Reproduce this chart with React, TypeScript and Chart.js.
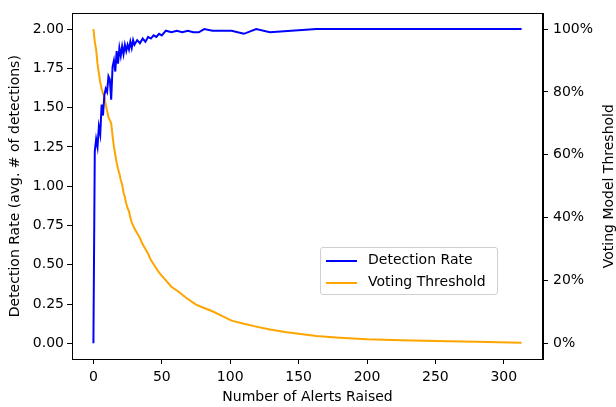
import React, { useEffect, useRef } from "react";
import { Chart, registerables } from "chart.js";

Chart.register(...registerables);

// Detection rate (avg. # of detections) vs number of alerts raised
const detX = [0, 1, 2, 3, 4, 5, 6, 7, 8, 9, 10, 11, 12, 13, 14, 15, 16, 17, 18, 19, 20, 21, 22, 23, 24, 25, 26, 27, 28, 29, 30, 32, 34, 36, 38, 40, 42, 44, 46, 48, 50, 53, 57, 61, 65, 69, 73, 77, 81, 87, 101, 110, 119, 129, 163, 313];
const detY = [0, 1.22, 1.3, 1.25, 1.38, 1.33, 1.52, 1.45, 1.58, 1.62, 1.6, 1.7, 1.68, 1.55, 1.76, 1.8, 1.73, 1.86, 1.78, 1.88, 1.83, 1.89, 1.84, 1.9, 1.86, 1.9, 1.87, 1.92, 1.88, 1.93, 1.9, 1.93, 1.91, 1.94, 1.92, 1.95, 1.94, 1.96, 1.95, 1.97, 1.96, 1.99, 1.98, 1.99, 1.98, 1.99, 1.98, 1.98, 2.0, 1.99, 1.99, 1.97, 2.0, 1.98, 2.0, 2.0];

// Voting threshold (%) vs number of alerts raised
const thrX = [0, 1, 2, 3, 4, 5, 6, 7, 8, 9, 10, 11, 12, 13, 14, 15, 16, 17, 18, 19, 20, 21, 22, 23, 24, 25, 26, 27, 28, 29, 30, 32, 34, 36, 38, 40, 42, 45, 48, 52, 57, 62, 68, 75, 80, 87, 95, 101, 110, 119, 129, 140, 150, 163, 180, 200, 225, 250, 280, 313];
const thrY = [100, 96, 93.5, 89, 86, 83, 81, 79.5, 78.5, 76, 74, 72, 71, 70, 66, 62.5, 60, 57.5, 55.5, 54, 52, 50.5, 48, 46.5, 44.5, 43, 42, 40, 38.5, 37.5, 36.5, 35, 33.5, 31.5, 30, 28.5, 26.5, 24.5, 22.5, 20.5, 18, 16.5, 14.4, 12.3, 11.4, 10.2, 8.5, 7.2, 6.2, 5.3, 4.4, 3.6, 3.0, 2.3, 1.8, 1.3, 1.0, 0.7, 0.5, 0.2];

const xTicks = [0, 50, 100, 150, 200, 250, 300];
const yTicks = [0, 0.25, 0.5, 0.75, 1.0, 1.25, 1.5, 1.75, 2.0];
const y1Ticks = [0, 20, 40, 60, 80, 100];

const FONT = "'DejaVu Sans', sans-serif";

const frame = {
  id: "frame",
  afterDraw(chart: any) {
    const { ctx, chartArea } = chart;
    ctx.save();
    ctx.strokeStyle = "#000";
    ctx.lineWidth = 1;
    ctx.strokeRect(
      Math.round(chartArea.left) + 0.5,
      Math.round(chartArea.top) + 0.5,
      Math.round(chartArea.right - chartArea.left) - 1,
      Math.round(chartArea.bottom - chartArea.top)
    );
    // right axis title, reading bottom to top
    ctx.fillStyle = "#000";
    ctx.font = `14px ${FONT}`;
    ctx.textAlign = "center";
    ctx.textBaseline = "middle";
    ctx.translate(chart.width - 7, (chartArea.top + chartArea.bottom) / 2);
    ctx.rotate(-Math.PI / 2);
    ctx.fillText("Voting Model Threshold", 0, 0);
    ctx.restore();
  },
};

export default function App() {
  const ref = useRef<HTMLCanvasElement>(null);

  useEffect(() => {
    if (!ref.current) return;
    Chart.defaults.font.family = FONT;
    Chart.defaults.font.size = 14;
    Chart.defaults.color = "#000";
    const tickGrid = {
      drawOnChartArea: false,
      drawTicks: true,
      tickLength: 5,
      tickColor: "#000",
      tickWidth: 1,
    };
    const chart = new Chart(ref.current, {
      type: "line",
      data: {
        datasets: [
          {
            label: "Detection Rate",
            data: detX.map((x, i) => ({ x, y: detY[i] })),
            borderColor: "#0000ff",
            backgroundColor: "#0000ff",
            borderWidth: 2,
            pointRadius: 0,
            tension: 0,
            yAxisID: "y",
          },
          {
            label: "Voting Threshold",
            data: thrX.map((x, i) => ({ x, y: thrY[i] })),
            borderColor: "#ffa500",
            backgroundColor: "#ffa500",
            borderWidth: 2,
            pointRadius: 0,
            tension: 0,
            yAxisID: "y1",
          },
        ],
      },
      options: {
        animation: false,
        responsive: true,
        maintainAspectRatio: false,
        layout: { padding: { top: 10, left: 0, right: 0, bottom: 0 } },
        plugins: {
          legend: { display: false },
          tooltip: { enabled: false },
        },
        scales: {
          x: {
            type: "linear",
            min: -15.65,
            max: 328.65,
            grid: tickGrid,
            border: { display: true, color: "#000", width: 1 },
            ticks: { padding: 5, font: { size: 14 } },
            afterBuildTicks: (s: any) => {
              s.ticks = xTicks.map((v) => ({ value: v }));
            },
            afterFit: (s: any) => {
              s.height = 48;
            },
            title: {
              display: true,
              text: "Number of Alerts Raised",
              font: { size: 14 },
              padding: { top: 0, bottom: 1 },
            },
          },
          y: {
            type: "linear",
            position: "left",
            min: -0.1,
            max: 2.1,
            grid: tickGrid,
            border: { display: true, color: "#000", width: 1 },
            ticks: {
              padding: 3,
              font: { size: 14 },
              callback: (v: any) => Number(v).toFixed(2),
            },
            afterBuildTicks: (s: any) => {
              s.ticks = yTicks.map((v) => ({ value: v }));
            },
            afterFit: (s: any) => {
              s.width = 72;
            },
            title: {
              display: true,
              text: "Detection Rate (avg. # of detections)",
              font: { size: 14 },
              padding: { top: 7, bottom: 0 },
            },
          },
          y1: {
            type: "linear",
            position: "right",
            min: -5,
            max: 105,
            grid: tickGrid,
            border: { display: true, color: "#000", width: 1 },
            ticks: {
              padding: 5,
              font: { size: 14 },
              callback: (v: any) => `${v}%`,
            },
            afterBuildTicks: (s: any) => {
              s.ticks = y1Ticks.map((v) => ({ value: v }));
            },
            afterFit: (s: any) => {
              s.width = 73;
            },
          },
        },
      },
      plugins: [frame],
    });
    return () => chart.destroy();
  }, []);

  const legendLine = (color: string) => ({
    position: "absolute" as const,
    left: 5,
    width: 31,
    height: 2,
    background: color,
  });

  return (
    <div style={{ position: "fixed", left: 0, top: 0, width: 616, height: 407, background: "#fff" }}>
      <canvas ref={ref} />
      <div
        style={{
          position: "absolute",
          left: 320,
          top: 247,
          width: 176,
          height: 46,
          border: "1px solid #d0d0d0",
          borderRadius: 3,
          background: "rgba(255,255,255,0.8)",
          fontFamily: FONT,
          fontSize: 14,
          color: "#000",
        }}
      >
        <div style={{ ...legendLine("#0000ff"), top: 12 }} />
        <div style={{ position: "absolute", left: 47, top: 3, lineHeight: "17px", whiteSpace: "nowrap" }}>Detection Rate</div>
        <div style={{ ...legendLine("#ffa500"), top: 34 }} />
        <div style={{ position: "absolute", left: 47, top: 25, lineHeight: "17px", whiteSpace: "nowrap" }}>Voting Threshold</div>
      </div>
    </div>
  );
}
